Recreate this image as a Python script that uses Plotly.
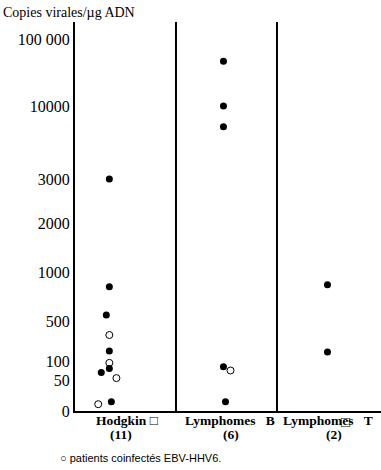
import numpy as np
import plotly.graph_objects as go

# ---- data ----
groups = ["Hodgkin □", "Lymphomes  B", "Lymphomes□ T"]
group_counts = ["(11)", "(6)", "(2)"]

# Hodgkin (11)
hodgkin_filled = [3000, 850, 560, 200, 80, 70, 15]
hodgkin_open = [360, 95, 55, 11]
# Lymphomes B (6)
lymB_filled = [70000, 10000, 8000, 85, 15]
lymB_open = [75]
# Lymphomes T (2)
lymT_filled = [870, 190]
lymT_open = []

# small horizontal jitter (category units) so overlapping points stay visible
hodgkin_filled_dx = [0.0, 0.0, -0.03, 0.0, 0.0, -0.08, 0.02]
hodgkin_open_dx = [0.0, 0.0, 0.07, -0.11]
lymB_filled_dx = [0.0, 0.0, 0.0, 0.0, 0.02]
lymB_open_dx = [0.07]
lymT_filled_dx = [0.0, 0.0]

# axis tick values / labels (non-linear broken scale of the original figure)
tick_values = [0, 50, 100, 500, 1000, 2000, 3000, 10000, 100000]
tick_labels = ["0", "50", "100", "500", "1000", "2000", "3000", "10000", "100 000"]

# ---- scale (layout) ----
tick_positions = [0, 31, 50, 90, 139, 188, 232, 305, 372]
group_base = [0.34, 1.47, 2.50]


def scale(vals):
    return np.interp(np.asarray(vals, dtype=float), tick_values, tick_positions)


fig = go.Figure()

filled_sets = [(hodgkin_filled, hodgkin_filled_dx), (lymB_filled, lymB_filled_dx), (lymT_filled, lymT_filled_dx)]
open_sets = [(hodgkin_open, hodgkin_open_dx), (lymB_open, lymB_open_dx), (lymT_open, [])]

fx, fy, ox, oy = [], [], [], []
for gi, (vals, dx) in enumerate(filled_sets):
    fx += [group_base[gi] + d for d in dx]
    fy += list(scale(vals))
for gi, (vals, dx) in enumerate(open_sets):
    if vals:
        ox += [group_base[gi] + d for d in dx]
        oy += list(scale(vals))

fig.add_trace(go.Scatter(x=fx, y=fy, mode="markers",
                         marker=dict(symbol="circle", size=7, color="black"),
                         showlegend=False, hoverinfo="skip"))
fig.add_trace(go.Scatter(x=ox, y=oy, mode="markers",
                         marker=dict(symbol="circle-open", size=7, color="black", line=dict(width=1)),
                         showlegend=False, hoverinfo="skip"))

# separators between groups
for xs in [1, 2]:
    fig.add_shape(type="line", x0=xs, x1=xs, y0=0, y1=1, xref="x", yref="paper",
                  line=dict(color="black", width=2))

serif = "Liberation Serif, Times New Roman, serif"
lab_font = dict(family=serif, size=13.5, color="black")
annotations = []

# group labels (first line)
annotations.append(dict(x=0.515, y=0, xref="x", yref="paper", yanchor="top", yshift=0,
                        text="<b>%s</b>" % groups[0], showarrow=False, font=lab_font))
annotations.append(dict(x=1.07, y=0, xref="x", yref="paper", xanchor="left", yanchor="top", yshift=0,
                        text="<b>%s</b>" % groups[1].replace("  ", "&nbsp;&nbsp;&nbsp;"),
                        showarrow=False, font=lab_font))
name_T, tail_T = groups[2].split("□")
annotations.append(dict(x=2.04, y=0, xref="x", yref="paper", xanchor="left", yanchor="top", yshift=0,
                        text="<b>%s&nbsp;&nbsp;&nbsp;%s</b>" % (name_T, tail_T.strip()),
                        showarrow=False, font=lab_font))
annotations.append(dict(x=2.675, y=0, xref="x", yref="paper", xanchor="center", yanchor="top", yshift=-1,
                        text="□", showarrow=False, font=dict(family=serif, size=15, color="black")))
# counts (second line)
count_x = [0.455, 1.54, 2.565]
for gi in range(3):
    annotations.append(dict(x=count_x[gi], y=0, xref="x", yref="paper", yanchor="top",
                            yshift=-14, text="<b>%s</b>" % group_counts[gi], showarrow=False,
                            font=lab_font))

annotations.append(dict(x=0, y=1, xref="paper", yref="paper", xanchor="left", yanchor="bottom",
                        xshift=-74, yshift=0, text="Copies virales/µg ADN", showarrow=False,
                        font=dict(family=serif, size=14, color="black")))
annotations.append(dict(x=0, y=0, xref="paper", yref="paper", xanchor="left", yanchor="middle",
                        xshift=-17, yshift=-47, text="○ patients coinfectés EBV-HHV6.", showarrow=False,
                        font=dict(family="Liberation Sans, Arial, sans-serif", size=11, color="black")))

fig.update_layout(
    width=381, height=470,
    margin=dict(l=75, r=0, t=22, b=59),
    paper_bgcolor="white", plot_bgcolor="white",
    annotations=annotations,
    xaxis=dict(range=[0, 3.03], showgrid=False, zeroline=False, showticklabels=False,
               ticks="", showline=True, linecolor="black", linewidth=2, fixedrange=True),
    yaxis=dict(range=[0, 389], showgrid=False, zeroline=False, tickmode="array",
               tickvals=tick_positions, ticktext=tick_labels, ticks="",
               tickfont=dict(family=serif, size=16, color="black"),
               showline=True, linecolor="black", linewidth=2, fixedrange=True),
)

fig.write_html("out.html", config={"displayModeBar": False},
               post_script="document.body.style.margin='0';document.body.style.overflow='hidden';")
